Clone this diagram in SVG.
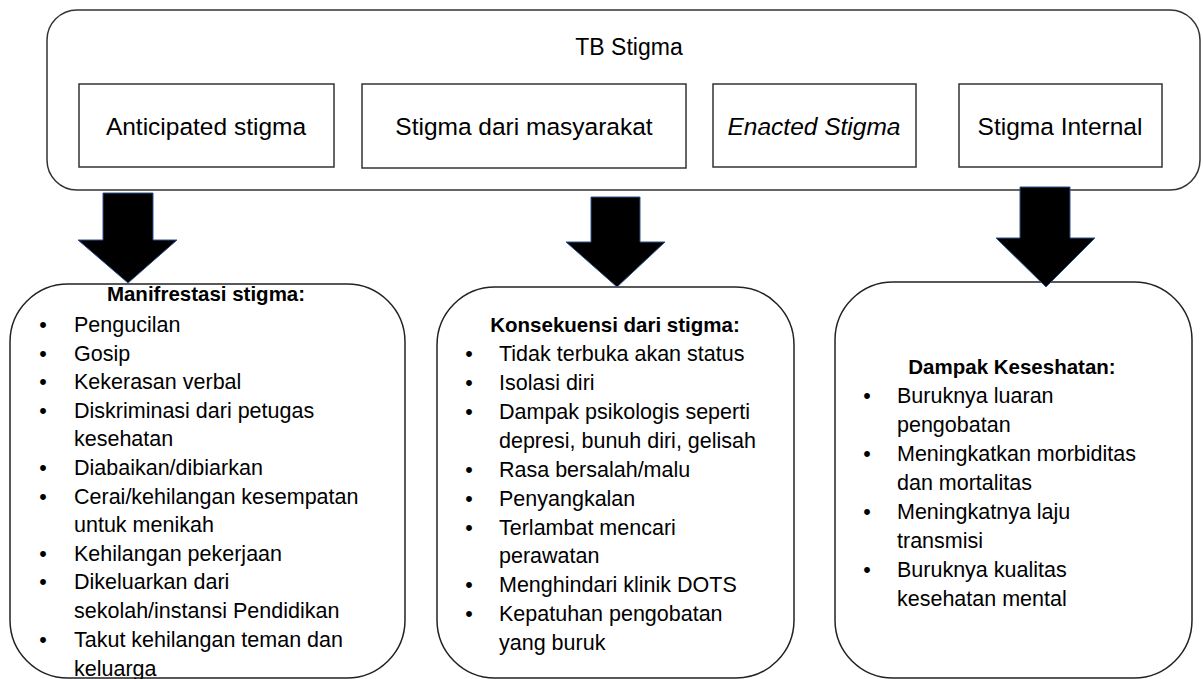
<svg xmlns="http://www.w3.org/2000/svg" width="1203" height="679" viewBox="0 0 1203 679">
<defs>
<style>
.box{fill:#fff;stroke:#333;stroke-width:1.5}
.rbox{fill:#fff;stroke:#222;stroke-width:1.5}
.arrow{fill:#000;stroke:#2f528f;stroke-width:1}
text{font-family:"Liberation Sans",Arial,sans-serif;fill:#000}
.t{font-size:24.5px;text-anchor:middle}
.h{font-size:20.5px;font-weight:bold;text-anchor:middle}
.b{font-size:21.5px}
.bl{font-size:21.5px;text-anchor:middle}
</style>
</defs>
<g id="tb-stigma">
<rect class="box" x="47" y="10" width="1153" height="180" rx="30"/>
<text class="t" x="629" y="55" style="font-size:23px">TB Stigma</text>
</g>
<g id="anticipated">
<rect class="box" x="79" y="84" width="255" height="83"/>
<text class="t" x="206" y="135">Anticipated stigma</text>
</g>
<g id="masyarakat">
<rect class="box" x="362" y="84" width="324" height="84"/>
<text class="t" x="524" y="135">Stigma dari masyarakat</text>
</g>
<g id="enacted">
<rect class="box" x="713" y="84" width="203" height="83"/>
<text class="t" x="814" y="135" font-style="italic">Enacted Stigma</text>
</g>
<g id="internal">
<rect class="box" x="959" y="84" width="203" height="83"/>
<text class="t" x="1060" y="135">Stigma Internal</text>
</g>
<g id="manifestasi">
<rect class="rbox" x="10" y="284" width="395" height="394" rx="58"/>
<text class="h" x="206" y="301">Manifrestasi stigma:</text>
<g class="b">
<text class="bl" x="43" y="332">•</text><text class="b" x="74" y="332">Pengucilan</text>
<text class="bl" x="43" y="360.6">•</text><text class="b" x="74" y="360.6">Gosip</text>
<text class="bl" x="43" y="389.2">•</text><text class="b" x="74" y="389.2">Kekerasan verbal</text>
<text class="bl" x="43" y="417.8">•</text><text class="b" x="74" y="417.8">Diskriminasi dari petugas</text>
<text class="b" x="74" y="446.4">kesehatan</text>
<text class="bl" x="43" y="475">•</text><text class="b" x="74" y="475">Diabaikan/dibiarkan</text>
<text class="bl" x="43" y="503.6">•</text><text class="b" x="74" y="503.6">Cerai/kehilangan kesempatan</text>
<text class="b" x="74" y="532.2">untuk menikah</text>
<text class="bl" x="43" y="560.8">•</text><text class="b" x="74" y="560.8">Kehilangan pekerjaan</text>
<text class="bl" x="43" y="589.4">•</text><text class="b" x="74" y="589.4">Dikeluarkan dari</text>
<text class="b" x="74" y="618">sekolah/instansi Pendidikan</text>
<text class="bl" x="43" y="646.6">•</text><text class="b" x="74" y="646.6">Takut kehilangan teman dan</text>
<text class="b" x="74" y="675.5">keluarga</text>
</g>
</g>
<g id="konsekuensi">
<rect class="rbox" x="437" y="287" width="357" height="391" rx="58"/>
<text class="h" x="615" y="332">Konsekuensi dari stigma:</text>
<text class="bl" x="469" y="361">•</text><text class="b" x="499" y="361">Tidak terbuka akan status</text>
<text class="bl" x="469" y="390">•</text><text class="b" x="499" y="390">Isolasi diri</text>
<text class="bl" x="469" y="418.5">•</text><text class="b" x="499" y="418.5">Dampak psikologis seperti</text>
<text class="b" x="499" y="447.5">depresi, bunuh diri, gelisah</text>
<text class="bl" x="469" y="476.5">•</text><text class="b" x="499" y="476.5">Rasa bersalah/malu</text>
<text class="bl" x="469" y="505.5">•</text><text class="b" x="499" y="505.5">Penyangkalan</text>
<text class="bl" x="469" y="534.5">•</text><text class="b" x="499" y="534.5">Terlambat mencari</text>
<text class="b" x="499" y="563">perawatan</text>
<text class="bl" x="469" y="592">•</text><text class="b" x="499" y="592">Menghindari klinik DOTS</text>
<text class="bl" x="469" y="621">•</text><text class="b" x="499" y="621">Kepatuhan pengobatan</text>
<text class="b" x="499" y="650">yang buruk</text>
</g>
<g id="dampak">
<rect class="rbox" x="835" y="282" width="357" height="396" rx="58"/>
<text class="h" x="1012" y="374">Dampak Keseshatan:</text>
<text class="bl" x="867" y="403">•</text><text class="b" x="897" y="403">Buruknya luaran</text>
<text class="b" x="897" y="432">pengobatan</text>
<text class="bl" x="867" y="461">•</text><text class="b" x="897" y="461">Meningkatkan morbiditas</text>
<text class="b" x="897" y="490">dan mortalitas</text>
<text class="bl" x="867" y="519">•</text><text class="b" x="897" y="519">Meningkatnya laju</text>
<text class="b" x="897" y="548">transmisi</text>
<text class="bl" x="867" y="577">•</text><text class="b" x="897" y="577">Buruknya kualitas</text>
<text class="b" x="897" y="606">kesehatan mental</text>
</g>
<g id="connectors">
<polygon class="arrow" points="103,193 153,193 153,240 177,240 128,283 78,240 103,240"/>
<polygon class="arrow" points="591,197 640,197 640,242 665,242 617,287 566,242 591,242"/>
<polygon class="arrow" points="1020,187 1070,187 1070,238 1095,238 1046,287 996,238 1020,238"/>
</g>
</svg>
